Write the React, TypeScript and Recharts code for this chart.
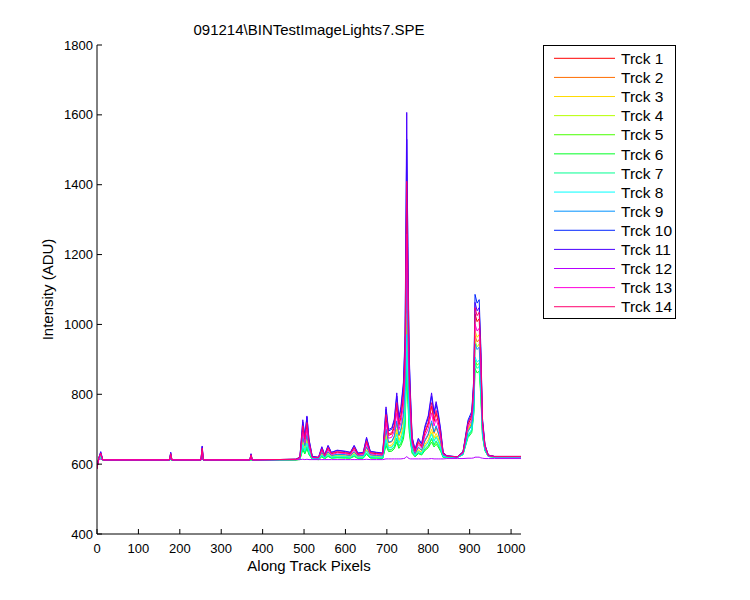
import React from 'react';
import { LineChart, Line, XAxis, YAxis } from 'recharts';

// along-track pixel positions where the traces were sampled
const PIXELS = [0, 4, 9, 14, 30, 175, 178, 181, 251, 254, 257, 369, 372, 375, 480, 490, 497, 502, 507, 512, 520, 535, 543, 550, 558, 566, 580, 600, 612, 621, 630, 643, 651, 660, 675, 690, 698, 704, 712, 718, 724, 729, 734, 740, 744, 748, 751, 754, 757, 761, 768, 776, 784, 792, 800, 808, 814, 819, 824, 830, 836, 845, 870, 884, 896, 905, 910, 913, 918, 923, 927, 931, 937, 945, 960, 1024];

const TRCK_1 = [588, 616, 631, 612, 612, 612, 630, 612, 612, 644, 612, 612, 626, 612, 614, 618, 704, 668, 713, 660, 620, 618, 642, 624, 646, 630, 634, 632, 630, 646, 628, 630, 664, 632, 630, 628, 734, 682, 686, 706, 766, 710, 734, 790, 898, 1380, 1098, 854, 766, 666, 636, 662, 650, 690, 714, 766, 722, 746, 722, 682, 630, 623, 620, 634, 713, 735, 818, 1030, 1008, 1016, 898, 717, 651, 625, 622, 622];
const TRCK_2 = [589, 615, 625, 612, 612, 612, 618, 612, 612, 624, 612, 612, 616, 612, 613, 616, 675, 650, 681, 645, 617, 616, 633, 620, 635, 624, 627, 626, 624, 635, 623, 624, 648, 626, 624, 623, 696, 661, 664, 677, 718, 680, 696, 735, 809, 1110, 916, 779, 718, 650, 629, 647, 639, 666, 683, 718, 688, 705, 688, 661, 625, 622, 620, 631, 698, 717, 788, 968, 950, 957, 856, 702, 646, 624, 621, 621];
const TRCK_3 = [590, 614, 623, 612, 612, 612, 616, 612, 612, 620, 612, 612, 615, 612, 613, 615, 664, 644, 669, 639, 616, 616, 629, 619, 631, 622, 625, 623, 622, 631, 621, 622, 641, 623, 622, 621, 682, 652, 655, 666, 700, 668, 682, 713, 774, 1031, 868, 749, 700, 643, 627, 641, 634, 657, 670, 700, 675, 688, 675, 652, 623, 622, 620, 632, 702, 721, 795, 983, 963, 971, 866, 706, 647, 624, 621, 621];
const TRCK_4 = [590, 614, 622, 612, 612, 612, 616, 612, 612, 619, 612, 612, 615, 612, 613, 615, 658, 640, 662, 636, 616, 615, 627, 618, 629, 621, 623, 622, 621, 629, 620, 621, 638, 622, 621, 620, 674, 648, 650, 660, 690, 662, 674, 702, 756, 991, 844, 734, 690, 640, 625, 638, 632, 652, 664, 690, 668, 680, 668, 648, 622, 622, 620, 630, 695, 713, 782, 954, 936, 944, 846, 699, 645, 623, 621, 621];
const TRCK_5 = [590, 613, 619, 611, 611, 611, 614, 611, 611, 616, 611, 611, 613, 611, 612, 614, 646, 632, 649, 629, 614, 613, 622, 616, 624, 618, 619, 619, 618, 624, 617, 618, 631, 619, 618, 617, 659, 640, 641, 649, 671, 650, 659, 680, 720, 912, 796, 704, 671, 634, 622, 632, 628, 642, 651, 671, 654, 663, 654, 640, 620, 621, 619, 628, 682, 697, 754, 898, 883, 889, 808, 685, 640, 622, 620, 620];
const TRCK_6 = [590, 613, 618, 611, 611, 611, 613, 611, 611, 615, 611, 611, 612, 611, 612, 613, 641, 629, 644, 627, 614, 613, 621, 615, 622, 617, 618, 617, 617, 622, 616, 617, 628, 617, 617, 616, 653, 636, 637, 644, 663, 645, 653, 671, 706, 872, 771, 692, 663, 631, 621, 630, 626, 639, 647, 663, 649, 657, 649, 636, 619, 620, 619, 627, 676, 690, 743, 874, 861, 866, 792, 679, 638, 622, 620, 620];
const TRCK_7 = [590, 613, 619, 611, 611, 611, 614, 611, 611, 616, 611, 611, 613, 611, 612, 614, 648, 633, 651, 630, 615, 614, 623, 616, 624, 618, 620, 619, 618, 624, 617, 618, 632, 619, 618, 617, 662, 641, 643, 651, 675, 652, 662, 684, 728, 922, 802, 710, 675, 635, 623, 633, 628, 644, 654, 675, 657, 667, 657, 641, 620, 621, 619, 628, 680, 694, 749, 889, 874, 880, 802, 683, 639, 622, 620, 620];
const TRCK_8 = [589, 614, 621, 612, 612, 612, 615, 612, 612, 618, 612, 612, 614, 612, 613, 615, 656, 639, 660, 635, 616, 615, 626, 618, 628, 620, 623, 622, 620, 628, 620, 620, 637, 622, 620, 620, 671, 646, 648, 658, 686, 660, 671, 698, 749, 971, 832, 728, 686, 639, 625, 637, 631, 650, 662, 686, 665, 677, 665, 646, 622, 621, 619, 628, 684, 700, 759, 907, 892, 898, 814, 687, 641, 622, 620, 620];
const TRCK_9 = [589, 615, 626, 612, 612, 612, 619, 612, 612, 628, 612, 612, 617, 612, 613, 617, 679, 653, 685, 647, 618, 617, 634, 621, 636, 625, 628, 627, 625, 636, 624, 625, 650, 627, 625, 624, 701, 663, 666, 681, 724, 684, 701, 742, 820, 1160, 947, 788, 724, 652, 630, 649, 640, 669, 687, 724, 692, 710, 692, 663, 626, 622, 620, 630, 693, 711, 777, 945, 928, 935, 840, 697, 644, 623, 621, 621];
const TRCK_10 = [588, 617, 634, 612, 612, 612, 633, 612, 612, 650, 612, 612, 629, 612, 614, 620, 721, 679, 735, 669, 622, 619, 648, 626, 652, 633, 639, 636, 633, 652, 631, 633, 674, 636, 633, 631, 757, 695, 700, 723, 795, 728, 757, 823, 951, 1530, 1222, 899, 795, 676, 641, 671, 657, 704, 733, 795, 742, 771, 742, 695, 633, 624, 621, 636, 726, 751, 846, 1086, 1061, 1071, 936, 731, 656, 626, 622, 622];
const TRCK_11 = [587, 617, 636, 612, 612, 612, 634, 612, 612, 652, 612, 612, 630, 612, 614, 620, 727, 682, 738, 672, 622, 620, 650, 627, 654, 634, 640, 637, 634, 654, 632, 634, 677, 637, 634, 632, 764, 699, 704, 729, 804, 734, 764, 834, 969, 1607, 1150, 914, 804, 679, 642, 674, 659, 709, 739, 804, 749, 779, 749, 699, 634, 624, 621, 635, 720, 744, 835, 1063, 1039, 1048, 920, 725, 654, 626, 622, 622];
const TRCK_12 = [595, 612, 614, 613, 613, 613, 613, 613, 613, 613, 613, 613, 613, 613, 613, 613, 614, 613, 614, 613, 613, 613, 613, 613, 613, 613, 613, 613, 613, 613, 613, 613, 614, 613, 613, 613, 615, 615, 615, 615, 615, 615, 615, 616, 617, 622, 618, 616, 615, 615, 615, 615, 615, 615, 615, 616, 615, 615, 615, 615, 615, 616, 616, 616, 617, 617, 618, 620, 620, 620, 618, 617, 616, 616, 616, 616];
const TRCK_13 = [588, 615, 629, 612, 612, 612, 626, 612, 612, 638, 612, 612, 624, 612, 613, 618, 692, 661, 700, 654, 619, 618, 639, 623, 641, 627, 632, 630, 627, 641, 626, 627, 658, 630, 627, 626, 719, 674, 677, 695, 747, 698, 719, 768, 863, 1259, 1038, 824, 747, 660, 634, 656, 646, 681, 702, 747, 709, 730, 709, 674, 628, 623, 620, 632, 706, 727, 805, 1001, 981, 989, 878, 710, 649, 624, 621, 621];
const TRCK_14 = [586, 616, 632, 612, 612, 612, 630, 612, 612, 646, 612, 612, 627, 612, 614, 619, 710, 672, 719, 663, 620, 619, 644, 625, 648, 631, 636, 633, 631, 648, 629, 631, 667, 633, 631, 629, 742, 686, 690, 712, 776, 716, 742, 801, 916, 1410, 1128, 869, 776, 669, 638, 665, 652, 695, 720, 776, 729, 754, 729, 686, 631, 623, 621, 634, 717, 740, 828, 1048, 1025, 1035, 910, 722, 653, 625, 622, 622];

const TRACKS = [TRCK_1, TRCK_2, TRCK_3, TRCK_4, TRCK_5, TRCK_6, TRCK_7, TRCK_8, TRCK_9, TRCK_10, TRCK_11, TRCK_12, TRCK_13, TRCK_14];
const TRACK_NAMES = TRACKS.map((_, i) => `Trck ${i + 1}`);
// matlab hsv(14)
const TRACK_COLORS = ['#FF0000', '#FF6D00', '#FFDB00', '#B6FF00', '#49FF00', '#00FF24', '#00FF92', '#00FFFF', '#0092FF', '#0024FF', '#4900FF', '#B600FF', '#FF00DB', '#FF006D'];

const X_TICKS = [0, 100, 200, 300, 400, 500, 600, 700, 800, 900, 1000];
const Y_TICKS = [400, 600, 800, 1000, 1200, 1400, 1600, 1800];

const FONT = '"Liberation Sans", Arial, sans-serif';

const rows = PIXELS.map((x, i) => {
  const r: Record<string, number> = { x };
  TRACKS.forEach((t, k) => {
    r[`t${k + 1}`] = t[i];
  });
  return r;
});

const tickStyle = { fill: '#000', fontSize: 13, fontFamily: FONT };
const blank = () => '';

export default function App() {
  return (
    <div style={{ position: 'absolute', left: 0, top: 0, width: 750, height: 600, background: '#fff' }}>
      <LineChart width={750} height={600} data={rows} margin={{ top: 45, right: 229, bottom: 36, left: 0 }}>
        <XAxis
          xAxisId="b"
          dataKey="x"
          type="number"
          domain={[0, 1024]}
          allowDataOverflow
          ticks={X_TICKS}
          height={30}
          tickSize={-5}
          tickMargin={15}
          tick={tickStyle}
          stroke="#000"
          interval={0}
        />
        <XAxis
          xAxisId="t"
          orientation="top"
          dataKey="x"
          type="number"
          domain={[0, 1024]}
          allowDataOverflow
          ticks={X_TICKS}
          height={0}
          tickSize={-5}
          tickFormatter={blank}
          stroke="#000"
          interval={0}
        />
        <YAxis
          yAxisId="l"
          type="number"
          domain={[400, 1800]}
          allowDataOverflow
          ticks={Y_TICKS}
          width={97}
          tickSize={-5}
          tickMargin={9}
          tick={tickStyle}
          stroke="#000"
          interval={0}
        />
        <YAxis
          yAxisId="r"
          orientation="right"
          type="number"
          domain={[400, 1800]}
          allowDataOverflow
          ticks={Y_TICKS}
          width={0}
          tickSize={-5}
          tickFormatter={blank}
          stroke="#000"
          interval={0}
        />
        {TRACKS.map((_, k) => (
          <Line
            key={k}
            xAxisId="b"
            yAxisId="l"
            type="linear"
            dataKey={`t${k + 1}`}
            name={TRACK_NAMES[k]}
            stroke={TRACK_COLORS[k]}
            strokeWidth={1}
            dot={false}
            activeDot={false}
            isAnimationActive={false}
          />
        ))}
      </LineChart>
      <svg width={750} height={600} style={{ position: 'absolute', left: 0, top: 0, pointerEvents: 'none' }} fontFamily={FONT}>
        <text x={309} y={35} textAnchor="middle" fontSize={15}>
          091214\BINTestImageLights7.SPE
        </text>
        <text x={309} y={571} textAnchor="middle" fontSize={15}>
          Along Track Pixels
        </text>
        <text transform="translate(53,289.5) rotate(-90)" textAnchor="middle" fontSize={15}>
          Intensity (ADU)
        </text>
        <rect x={543.5} y={45.5} width={132} height={273} fill="#fff" stroke="#000" />
        {TRACK_NAMES.map((name, i) => {
          const cy = 58.3 + i * 19.11;
          return (
            <g key={name}>
              <line x1={554} x2={615} y1={cy} y2={cy} stroke={TRACK_COLORS[i]} strokeWidth={1} />
              <text x={621} y={cy + 5.7} fontSize={15.5}>
                {name}
              </text>
            </g>
          );
        })}
      </svg>
    </div>
  );
}
